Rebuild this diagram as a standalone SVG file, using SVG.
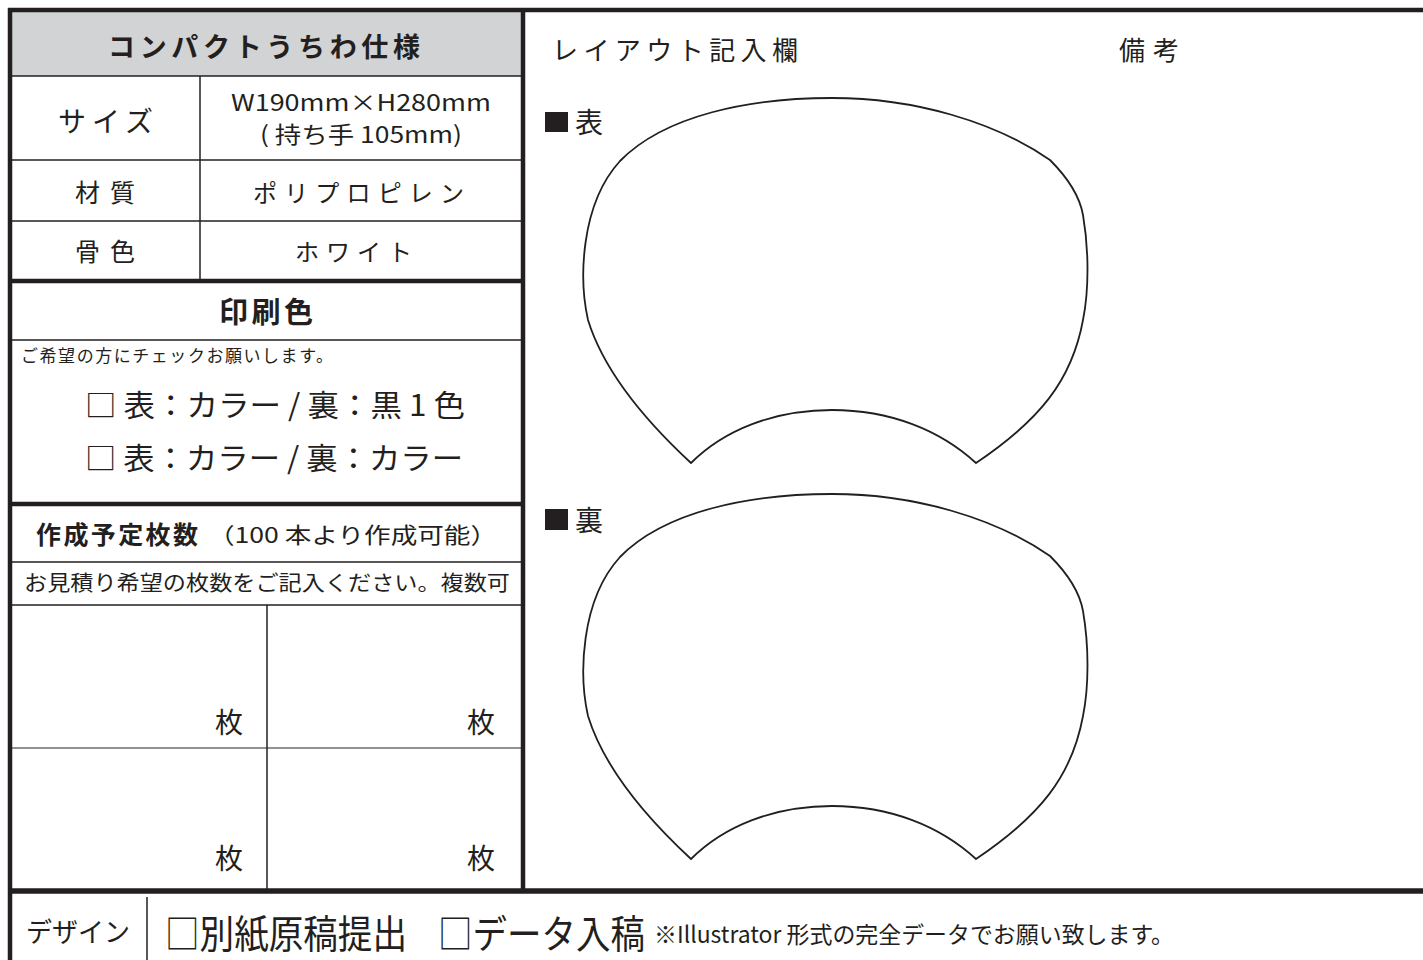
<svg xmlns="http://www.w3.org/2000/svg" width="1423" height="960" viewBox="0 0 1423 960">
<style>
text{font-family:"Noto Sans CJK JP","Noto Sans",sans-serif;fill:#231f20}
.b{font-weight:bold}
.thick{stroke:#231f20;stroke-width:4.5;fill:none}
.thin{stroke:#231f20;stroke-width:1.5;fill:none}
.grey{stroke:#6d6e70;stroke-width:1.5;fill:none}
.shape{stroke:#231f20;stroke-width:1.8;fill:#fff}
</style>
<defs>
<path id="uchiwa" d="M691,463 C650,425 605,375 588,320 C579,280 580,205 620,161 C665,115 750,98 832,98 C915,98 995,122 1050,160 C1068,178 1080,198 1083,215 C1089,250 1089,290 1083,320 C1072,380 1040,420 976,463 C940,430 890,410 832,410 C774,410 724,430 691,463 Z"/>
</defs>
<rect width="1423" height="960" fill="#fff"/>

<g id="spec-table">
<rect x="12" y="12" width="509" height="64" fill="#d1d3d4"/>
<line class="thin" x1="10" y1="76" x2="523" y2="76"/>
<line class="thin" x1="10" y1="160" x2="523" y2="160"/>
<line class="thin" x1="10" y1="221" x2="523" y2="221"/>
<line class="thin" x1="200" y1="76" x2="200" y2="281"/>
<text class="b" x="108" y="57" font-size="27" textLength="312" lengthAdjust="spacing">コンパクトうちわ仕様</text>
<text x="58" y="132" font-size="28" textLength="95" lengthAdjust="spacing">サイズ</text>
<text x="231" y="111" font-size="23" textLength="260" lengthAdjust="spacingAndGlyphs">W190mm×H280mm</text>
<text x="260" y="143" font-size="23" textLength="202" lengthAdjust="spacingAndGlyphs">( 持ち手 105mm)</text>
<text x="75" y="202" font-size="25" textLength="60" lengthAdjust="spacing">材質</text>
<text x="253" y="202" font-size="24" textLength="211" lengthAdjust="spacing">ポリプロピレン</text>
<text x="75" y="261" font-size="25" textLength="60" lengthAdjust="spacing">骨色</text>
<text x="295" y="261" font-size="24" textLength="117" lengthAdjust="spacing">ホワイト</text>
</g>

<g id="print-color">
<line class="thick" x1="8" y1="281" x2="525" y2="281"/>
<line class="thin" x1="10" y1="340" x2="523" y2="340"/>
<text class="b" x="219" y="323" font-size="29" textLength="94" lengthAdjust="spacing">印刷色</text>
<text x="21" y="362" font-size="17" textLength="312" lengthAdjust="spacing">ご希望の方にチェックお願いします。</text>
<text x="85" y="416" font-size="30" textLength="380" lengthAdjust="spacingAndGlyphs">□ 表：カラー / 裏：黒 1 色</text>
<text x="85" y="469" font-size="30" textLength="378" lengthAdjust="spacingAndGlyphs">□ 表：カラー / 裏：カラー</text>
</g>

<g id="quantity">
<line class="thick" x1="8" y1="504" x2="525" y2="504"/>
<line class="thin" x1="10" y1="562" x2="523" y2="562"/>
<line class="thin" x1="10" y1="605" x2="523" y2="605"/>
<line class="grey" x1="10" y1="748" x2="523" y2="748"/>
<line class="thin" x1="267" y1="605" x2="267" y2="890"/>
<text class="b" x="36" y="544" font-size="25" textLength="162" lengthAdjust="spacing">作成予定枚数</text>
<text x="208" y="543" font-size="22" textLength="289" lengthAdjust="spacingAndGlyphs">（100 本より作成可能）</text>
<text x="24" y="590" font-size="21" textLength="486" lengthAdjust="spacingAndGlyphs">お見積り希望の枚数をご記入ください。複数可</text>
<text x="215" y="733" font-size="28">枚</text>
<text x="467" y="733" font-size="28">枚</text>
<text x="215" y="869" font-size="28">枚</text>
<text x="467" y="869" font-size="28">枚</text>
</g>

<g id="frame">
<line class="thick" x1="8" y1="10" x2="1423" y2="10"/>
<line class="thick" x1="10" y1="8" x2="10" y2="960"/>
<line class="thick" x1="523" y1="10" x2="523" y2="891"/>
<line x1="8" y1="891" x2="1423" y2="891" stroke="#231f20" stroke-width="5.5"/>
</g>

<g id="layout">
<text x="552" y="60" font-size="26" textLength="246" lengthAdjust="spacing">レイアウト記入欄</text>
<text x="1119" y="60" font-size="26" textLength="60" lengthAdjust="spacing">備考</text>
<rect x="545" y="112" width="23" height="20" fill="#231f20"/>
<text x="575" y="133" font-size="28">表</text>
<use href="#uchiwa" class="shape"/>
<rect x="545" y="509" width="23" height="21" fill="#231f20"/>
<text x="575" y="531" font-size="28">裏</text>
<use href="#uchiwa" class="shape" transform="translate(0,396)"/>
</g>

<g id="design">
<line class="thin" x1="147" y1="897" x2="147" y2="960"/>
<text x="26" y="942" font-size="27" textLength="104" lengthAdjust="spacingAndGlyphs">デザイン</text>
<text x="165" y="948" font-size="39" textLength="242" lengthAdjust="spacingAndGlyphs">□別紙原稿提出</text>
<text x="438" y="948" font-size="39" textLength="207" lengthAdjust="spacingAndGlyphs">□データ入稿</text>
<text x="654" y="943" font-size="23" textLength="520" lengthAdjust="spacingAndGlyphs">※Illustrator 形式の完全データでお願い致します。</text>
</g>
</svg>
